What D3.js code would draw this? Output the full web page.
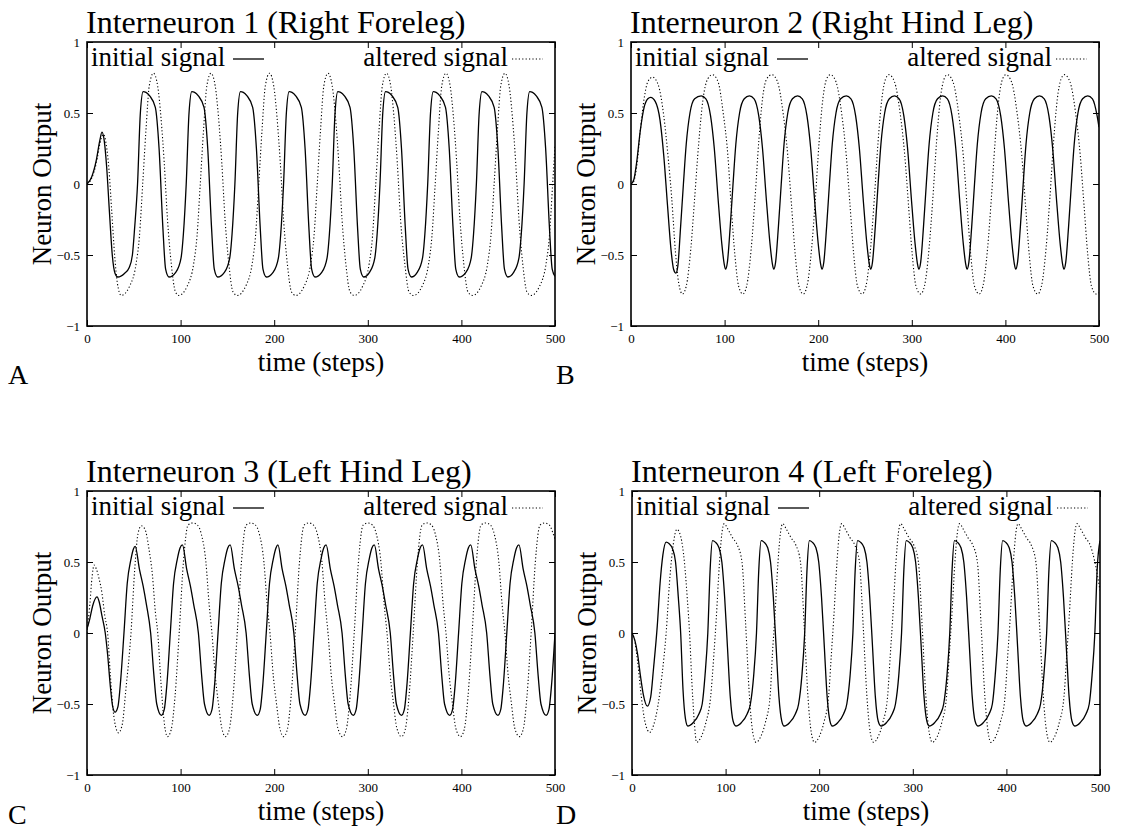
<!DOCTYPE html>
<html><head><meta charset="utf-8">
<script src="https://cdn.jsdelivr.net/npm/d3@7"></script>
<style>
body{margin:0;background:#fff}
svg{display:block}
text{font-family:"Liberation Serif","Times New Roman",serif;fill:#000}
</style></head>
<body><svg id="chart" width="1122" height="832"></svg>
<script>
const titles = ["Interneuron 1 (Right Foreleg)","Interneuron 2 (Right Hind Leg)","Interneuron 3 (Left Hind Leg)","Interneuron 4 (Left Foreleg)"];
const panelLetters = ["A","B","C","D"];
const seriesNames = ["initial signal","altered signal"];
const xLabel = "time (steps)";
const yLabel = "Neuron Output";
const xTicks = [0,100,200,300,400,500];
const yTicks = [-1,-0.5,0,0.5,1];
const yTickLabels = ["\u22121","\u22120.5","0","0.5","1"];

const aInitial = [[0,0],[5,0.05],[10,0.17],[13.5,0.3],[16,0.365],[18.5,0.3],[21,0.12],[24,-0.2],[27,-0.5],[30,-0.63],[33,-0.655],[40,-0.63],[45,-0.59],[48.5,-0.5],[51,-0.3],[54,0],[57,0.5],[60,0.65],
[63,0.645],[67,0.62],[73,0.54],[77,0.25],[81,-0.3],[84,-0.6],[87.5,-0.655],[95,-0.62],[100.5,-0.52],[103,-0.35],[106,0],[109,0.5],[112,0.65],
[115,0.645],[119,0.62],[125,0.54],[129,0.25],[133,-0.3],[136,-0.6],[139.5,-0.655],[147,-0.62],[152.5,-0.52],[155,-0.35],[158,0],[161,0.5],[164,0.65],
[167,0.645],[171,0.62],[177,0.54],[181,0.25],[185,-0.3],[188,-0.6],[191.5,-0.655],[199,-0.62],[204.5,-0.52],[207,-0.35],[210,0],[213,0.5],[216,0.65],
[219,0.645],[223,0.62],[229,0.54],[233,0.25],[237,-0.3],[240,-0.6],[243.5,-0.655],[251,-0.62],[256.5,-0.52],[259,-0.35],[262,0],[265,0.5],[268,0.65],
[271,0.645],[275,0.62],[281,0.54],[285,0.25],[289,-0.3],[292,-0.6],[295.5,-0.655],[302,-0.62],[307.5,-0.52],[310,-0.35],[313,0],[316,0.5],[319,0.65],
[322,0.645],[326,0.62],[332,0.54],[336,0.25],[340,-0.3],[343,-0.6],[346.5,-0.655],[353,-0.62],[358.5,-0.52],[361,-0.35],[364,0],[367,0.5],[370,0.65],
[373,0.645],[377,0.62],[383,0.54],[387,0.25],[391,-0.3],[394,-0.6],[397.5,-0.655],[405,-0.62],[410.5,-0.52],[413,-0.35],[416,0],[419,0.5],[422,0.65],
[425,0.645],[429,0.62],[435,0.54],[439,0.25],[443,-0.3],[446,-0.6],[449.5,-0.655],[456,-0.62],[461.5,-0.52],[464,-0.35],[467,0],[470,0.5],[473,0.65],
[476,0.645],[480,0.62],[486,0.54],[490,0.25],[494,-0.3],[497,-0.6],[500,-0.65]];

const aAltered = [[0,0],[5,0.04],[10,0.15],[14,0.29],[17.5,0.35],[20.5,0.28],[23.5,0.1],[26.5,-0.2],[29.5,-0.5],[32.5,-0.7],[36.5,-0.785],
[45.5,-0.72],[52.5,-0.56],[56,-0.37],[59.5,0],[63,0.38],[66.5,0.69],[71,0.78],[75.5,0.69],[79,0.47],[82.5,0.15],[86,-0.25],[90,-0.56],[94.5,-0.76],[98,-0.785],
[107,-0.72],[114,-0.56],[117.5,-0.37],[121,0],[124.5,0.38],[128,0.69],[132.5,0.78],[137,0.69],[140.5,0.47],[144,0.15],[147.5,-0.25],[151.5,-0.56],[156,-0.76],[160.5,-0.785],
[169.5,-0.72],[176.5,-0.56],[180,-0.37],[183.5,0],[187,0.38],[190.5,0.69],[195,0.78],[199.5,0.69],[203,0.47],[206.5,0.15],[210,-0.25],[214,-0.56],[218.5,-0.76],[223,-0.785],
[232,-0.72],[239,-0.56],[242.5,-0.37],[246,0],[249.5,0.38],[253,0.69],[257.5,0.78],[262,0.69],[265.5,0.47],[269,0.15],[272.5,-0.25],[276.5,-0.56],[281,-0.76],[285.5,-0.785],
[294.5,-0.72],[301.5,-0.56],[305,-0.37],[308.5,0],[312,0.38],[315.5,0.69],[320,0.78],[324.5,0.69],[328,0.47],[331.5,0.15],[335,-0.25],[339.5,-0.56],[344,-0.76],[349,-0.785],
[358,-0.72],[365,-0.56],[368.5,-0.37],[372,0],[375.5,0.38],[379,0.69],[383.5,0.78],[388,0.69],[391.5,0.47],[395,0.15],[398.5,-0.25],[402.5,-0.56],[407,-0.76],[412,-0.785],
[421,-0.72],[428,-0.56],[431.5,-0.37],[435,0],[438.5,0.38],[442,0.69],[446.5,0.78],[451,0.69],[454.5,0.47],[458,0.15],[461.5,-0.25],[465.5,-0.56],[470,-0.76],[474.5,-0.785],
[483.5,-0.72],[490.5,-0.56],[494,-0.37],[497.5,0],[500,0.27]];

const bInitial = [[0,0],[3,0.03],[6,0.15],[10,0.38],[14,0.54],[18,0.6],[21,0.61],[26,0.58],[31,0.45],[35,0.2],[39,-0.15],[43,-0.48],[45.5,-0.6],[48,-0.627],
[50,-0.58],[53,-0.3],[56,0],[59,0.28],[63,0.5],[68,0.6],[75,0.62],
[80,0.6],[85,0.48],[89,0.25],[93,-0.1],[97,-0.42],[99.5,-0.56],[101,-0.6],
[103,-0.55],[106,-0.3],[109,0],[112,0.28],[116,0.5],[121,0.6],[126.5,0.62],
[131.5,0.6],[136.5,0.48],[140.5,0.25],[144.5,-0.1],[148.5,-0.42],[151,-0.56],[152.5,-0.6],
[154.5,-0.55],[157.5,-0.3],[160.5,0],[163.5,0.28],[167.5,0.5],[172.5,0.6],[178,0.62],
[183,0.6],[188,0.48],[192,0.25],[196,-0.1],[200,-0.42],[202.5,-0.56],[204,-0.6],
[206,-0.55],[209,-0.3],[212,0],[215,0.28],[219,0.5],[224,0.6],[230,0.62],
[235,0.6],[240,0.48],[244,0.25],[248,-0.1],[252,-0.42],[254.5,-0.56],[256,-0.6],
[258,-0.55],[261,-0.3],[264,0],[267,0.28],[271,0.5],[276,0.6],[281.5,0.62],
[286.5,0.6],[291.5,0.48],[295.5,0.25],[299.5,-0.1],[303.5,-0.42],[306,-0.56],[307.5,-0.6],
[309.5,-0.55],[312.5,-0.3],[315.5,0],[318.5,0.28],[322.5,0.5],[327.5,0.6],[333,0.62],
[338,0.6],[343,0.48],[347,0.25],[351,-0.1],[355,-0.42],[357.5,-0.56],[359,-0.6],
[361,-0.55],[364,-0.3],[367,0],[370,0.28],[374,0.5],[379,0.6],[385,0.62],
[390,0.6],[395,0.48],[399,0.25],[403,-0.1],[407,-0.42],[409.5,-0.56],[411,-0.6],
[413,-0.55],[416,-0.3],[419,0],[422,0.28],[426,0.5],[431,0.6],[436.5,0.62],
[441.5,0.6],[446.5,0.48],[450.5,0.25],[454.5,-0.1],[458.5,-0.42],[461,-0.56],[462.5,-0.6],
[464.5,-0.55],[467.5,-0.3],[470.5,0],[473.5,0.28],[477.5,0.5],[482.5,0.6],[488,0.62],
[493,0.6],[498,0.48],[500,0.4]];

const bAltered = [[0,0],[3,0.02],[6,0.12],[10,0.38],[14,0.6],[18,0.72],[23,0.753],
[29,0.7],[35,0.48],[39.5,0.2],[43.5,-0.1],[47.5,-0.48],[51,-0.7],[55,-0.775],
[59,-0.72],[64,-0.45],[68,-0.1],[72.5,0.3],[77,0.6],[82,0.74],[87,0.77],
[93,0.72],[98.5,0.5],[103.5,0.2],[107,-0.15],[111,-0.5],[115,-0.72],[119.5,-0.775],
[123.5,-0.72],[128.5,-0.45],[132.5,-0.1],[136.5,0.3],[140.5,0.6],[145,0.74],[150.5,0.77],
[156.5,0.72],[162.5,0.5],[167.5,0.2],[171.5,-0.15],[175.5,-0.5],[179.5,-0.72],[184,-0.775],
[188,-0.72],[193,-0.45],[197,-0.1],[201,0.3],[205,0.6],[209,0.74],[213,0.77],
[219,0.72],[225,0.5],[230,0.2],[234,-0.15],[238,-0.5],[242,-0.72],[247,-0.775],
[251,-0.72],[256,-0.45],[260,-0.1],[264,0.3],[268,0.6],[272,0.74],[275.5,0.77],
[281.5,0.72],[287.5,0.5],[292.5,0.2],[296.5,-0.15],[300.5,-0.5],[304.5,-0.72],[309.5,-0.775],
[313.5,-0.72],[318.5,-0.45],[322.5,-0.1],[326.5,0.3],[330.5,0.6],[334.5,0.74],[338,0.77],
[344,0.72],[350,0.5],[355,0.2],[359,-0.15],[363,-0.5],[367,-0.72],[372,-0.775],
[376,-0.72],[381,-0.45],[385,-0.1],[389,0.3],[393,0.6],[397,0.74],[400.5,0.77],
[406.5,0.72],[412.5,0.5],[417.5,0.2],[421.5,-0.15],[425.5,-0.5],[429.5,-0.72],[434.5,-0.775],
[438.5,-0.72],[443.5,-0.45],[447.5,-0.1],[451.5,0.3],[455.5,0.6],[459.5,0.74],[463,0.77],
[469,0.72],[475,0.5],[480,0.2],[484,-0.15],[488,-0.5],[492,-0.72],[497,-0.775],[500,-0.765]];

const cInitial = [[0,0.03],[3,0.1],[6,0.19],[10.7,0.254],[13,0.22],[16,0.12],[19.5,0],[22,-0.15],[25,-0.38],[27.5,-0.52],[30,-0.557],
[33,-0.52],[36,-0.33],[39.5,0],[43,0.35],[47,0.52],[49.5,0.59],[51.5,0.61],
[56,0.45],[60,0.33],[63.5,0.2],[68,0],[71.5,-0.3],[74.5,-0.5],[79.5,-0.58],
[82.5,-0.54],[85.5,-0.35],[89,0],[92.5,0.35],[96.5,0.52],[99.5,0.6],[102,0.62],
[106.5,0.45],[110.5,0.33],[114,0.2],[119,0],[122.5,-0.3],[125.5,-0.5],[130.5,-0.58],
[133.5,-0.54],[136.5,-0.35],[140,0],[143.5,0.35],[147.5,0.52],[150.5,0.6],[153,0.62],
[157.5,0.45],[161.5,0.33],[165,0.2],[170,0],[173.5,-0.3],[176.5,-0.5],[182,-0.58],
[185,-0.54],[188,-0.35],[191.5,0],[195,0.35],[199,0.52],[202,0.6],[204,0.62],
[208.5,0.45],[212.5,0.33],[216,0.2],[221,0],[224.5,-0.3],[227.5,-0.5],[233,-0.58],
[236,-0.54],[239,-0.35],[242.5,0],[246,0.35],[250,0.52],[253,0.6],[255.5,0.62],
[260,0.45],[264,0.33],[267.5,0.2],[272.5,0],[276,-0.3],[279,-0.5],[284.5,-0.58],
[287.5,-0.54],[290.5,-0.35],[294,0],[297.5,0.35],[301.5,0.52],[304.5,0.6],[307,0.62],
[311.5,0.45],[315.5,0.33],[319,0.2],[324,0],[327.5,-0.3],[330.5,-0.5],[336,-0.58],
[339,-0.54],[342,-0.35],[345.5,0],[349,0.35],[353,0.52],[356,0.6],[358.5,0.62],
[363,0.45],[367,0.33],[370.5,0.2],[375.5,0],[379,-0.3],[382,-0.5],[387.5,-0.58],
[390.5,-0.54],[393.5,-0.35],[397,0],[400.5,0.35],[404.5,0.52],[407.5,0.6],[410,0.62],
[414.5,0.45],[418.5,0.33],[422,0.2],[427,0],[430.5,-0.3],[433.5,-0.5],[439,-0.58],
[442,-0.54],[445,-0.35],[448.5,0],[452,0.35],[456,0.52],[459,0.6],[461.5,0.62],
[466,0.45],[470,0.33],[473.5,0.2],[478.5,0],[482,-0.3],[485,-0.5],[490.5,-0.58],
[493.5,-0.54],[496.5,-0.35],[500,0]];

const cAltered = [[0,0],[3,0.2],[5.5,0.4],[7.6,0.478],[10,0.45],[13,0.38],[16,0.28],[19,0.12],[22,0],[25,-0.3],[28,-0.55],[31,-0.67],[33.6,-0.703],
[37.5,-0.65],[41.5,-0.4],[47,0],[51,0.45],[54.5,0.7],[58,0.755],[62,0.73],[66,0.6],[70,0.4],[73,0.15],[75.6,0],[79,-0.35],[82,-0.6],[86,-0.73],
[90,-0.68],[94,-0.45],[98.5,0],[103,0.5],[108,0.76],[113,0.775],[118,0.76],[122,0.7],[127,0.5],[130.5,0.2],[133.5,0],[137,-0.3],[140.5,-0.5],[144,-0.67],[148,-0.73],
[152,-0.68],[156,-0.45],[160.5,0],[165,0.5],[170,0.76],[175,0.775],[180,0.76],[184,0.7],[189,0.5],[192.5,0.2],[195.5,0],[199,-0.3],[202.5,-0.5],[206,-0.67],[210,-0.73],
[214,-0.68],[218,-0.45],[222.5,0],[227,0.5],[232,0.76],[237,0.775],[242,0.76],[246,0.7],[251,0.5],[254.5,0.2],[257.5,0],[261,-0.3],[264.5,-0.5],[268,-0.67],[273,-0.73],
[277,-0.68],[281,-0.45],[285.5,0],[290,0.5],[295,0.76],[300,0.775],[305,0.76],[309,0.7],[314,0.5],[317.5,0.2],[320.5,0],[324,-0.3],[327.5,-0.5],[331,-0.67],[336,-0.73],
[340,-0.68],[344,-0.45],[348.5,0],[353,0.5],[358,0.76],[363,0.775],[368,0.76],[372,0.7],[377,0.5],[380.5,0.2],[383.5,0],[387,-0.3],[390.5,-0.5],[394,-0.67],[399,-0.73],
[403,-0.68],[407,-0.45],[411.5,0],[416,0.5],[421,0.76],[426,0.775],[431,0.76],[435,0.7],[440,0.5],[443.5,0.2],[446.5,0],[450,-0.3],[453.5,-0.5],[457,-0.67],[462,-0.73],
[466,-0.68],[470,-0.45],[474.5,0],[479,0.5],[484,0.76],[489,0.775],[494,0.76],[498,0.7],[500,0.66]];

const dInitial = [[0,0],[3,-0.05],[6,-0.15],[9,-0.3],[12,-0.43],[16.5,-0.515],[20,-0.45],[23,-0.25],[27,0.05],[30,0.35],[33,0.55],[36.5,0.64],
[39.5,0.63],[43.5,0.59],[46.5,0.5],[49.5,0.25],[52,0],[54.5,-0.4],[57,-0.6],[59.5,-0.655],
[65.5,-0.63],[71.5,-0.57],[75,-0.5],[78,-0.3],[81,0],[83.5,0.45],[86,0.65],
[89,0.64],[93,0.6],[96,0.5],[99,0.25],[102,-0.1],[105,-0.45],[108,-0.62],[111,-0.655],
[117,-0.63],[123,-0.57],[126.5,-0.5],[130,-0.3],[133,0],[135.5,0.45],[138,0.65],
[141,0.64],[145,0.6],[148,0.5],[151,0.25],[154,-0.1],[157,-0.45],[160,-0.62],[162.5,-0.655],
[168.5,-0.63],[174.5,-0.57],[178,-0.5],[181.5,-0.3],[184.5,0],[187,0.45],[189.5,0.65],
[192.5,0.64],[196.5,0.6],[199.5,0.5],[202.5,0.25],[205.5,-0.1],[208.5,-0.45],[211.5,-0.62],[214,-0.655],
[220,-0.63],[226,-0.57],[229.5,-0.5],[233,-0.3],[236,0],[238.5,0.45],[241,0.65],
[244,0.64],[248,0.6],[251,0.5],[254,0.25],[257,-0.1],[260,-0.45],[263,-0.62],[266,-0.655],
[272,-0.63],[278,-0.57],[281.5,-0.5],[285,-0.3],[288,0],[290.5,0.45],[293,0.65],
[296,0.64],[300,0.6],[303,0.5],[306,0.25],[309,-0.1],[312,-0.45],[315,-0.62],[317.5,-0.655],
[323.5,-0.63],[329.5,-0.57],[333,-0.5],[336.5,-0.3],[339.5,0],[342,0.45],[344.5,0.65],
[347.5,0.64],[351.5,0.6],[354.5,0.5],[357.5,0.25],[360.5,-0.1],[363.5,-0.45],[366.5,-0.62],[369.5,-0.655],
[375.5,-0.63],[381.5,-0.57],[385,-0.5],[388,-0.3],[391,0],[393.5,0.45],[396,0.65],
[399,0.64],[403,0.6],[406,0.5],[409,0.25],[412,-0.1],[415,-0.45],[418,-0.62],[421,-0.655],
[427,-0.63],[433,-0.57],[436.5,-0.5],[440,-0.3],[443,0],[445.5,0.45],[448,0.65],
[451,0.64],[455,0.6],[458,0.5],[461,0.25],[464,-0.1],[467,-0.45],[470,-0.62],[473,-0.655],
[479,-0.63],[485,-0.57],[488.5,-0.5],[491.5,-0.3],[494.5,0],[497,0.45],[500,0.65]];

const dAltered = [[0,0],[3,-0.06],[6,-0.2],[10,-0.45],[14,-0.63],[19,-0.7],[23,-0.65],[28,-0.5],[32,-0.3],[36.5,0],[40,0.35],[44,0.62],[48,0.73],
[52,0.68],[56,0.5],[59,0.25],[61.5,0],[64,-0.35],[66.5,-0.62],[69,-0.77],
[74,-0.73],[79,-0.63],[84,-0.45],[87.5,-0.15],[90,0.1],[93.5,0.5],[96,0.7],[98.5,0.77],
[102.5,0.73],[107.5,0.67],[112.5,0.62],[117.5,0.5],[121.5,0.05],[125.5,-0.45],[129,-0.7],[132.5,-0.77],
[137.5,-0.73],[142.5,-0.63],[147.5,-0.45],[150,-0.15],[152.5,0.1],[156,0.5],[158.5,0.7],[161,0.77],
[165,0.73],[170,0.67],[175,0.62],[180,0.5],[184,0.05],[188,-0.45],[191.5,-0.7],[195,-0.77],
[200,-0.73],[205,-0.63],[210,-0.45],[213,-0.15],[215.5,0.1],[219,0.5],[221.5,0.7],[224,0.77],
[228,0.73],[233,0.67],[238,0.62],[243,0.5],[247,0.05],[251,-0.45],[254.5,-0.7],[258,-0.77],
[263,-0.73],[268,-0.63],[273,-0.45],[276,-0.15],[278.5,0.1],[282,0.5],[284.5,0.7],[287,0.77],
[291,0.73],[296,0.67],[301,0.62],[306,0.5],[310,0.05],[314,-0.45],[317.5,-0.7],[321,-0.77],
[326,-0.73],[331,-0.63],[336,-0.45],[339,-0.15],[341.5,0.1],[345,0.5],[347.5,0.7],[350,0.77],
[354,0.73],[359,0.67],[364,0.62],[369,0.5],[373,0.05],[377,-0.45],[380.5,-0.7],[383.5,-0.77],
[388.5,-0.73],[393.5,-0.63],[398.5,-0.45],[401.5,-0.15],[404,0.1],[407.5,0.5],[410,0.7],[412.5,0.77],
[416.5,0.73],[421.5,0.67],[426.5,0.62],[431.5,0.5],[435.5,0.05],[439.5,-0.45],[443,-0.7],[446.5,-0.77],
[451.5,-0.73],[456.5,-0.63],[461.5,-0.45],[464.5,-0.15],[467,0.1],[470.5,0.5],[473,0.7],[475.5,0.77],
[479.5,0.73],[484.5,0.67],[489.5,0.62],[494.5,0.5],[500,0.3]];

const panelSeries = [[aInitial,aAltered],[bInitial,bAltered],[cInitial,cAltered],[dInitial,dAltered]];

// layout
const W = 468, H = 284;
const lefts = [87, 631, 87, 632];
const tops = [42, 42, 491, 491];

const svg = d3.select("#chart");
const x = d3.scaleLinear().domain([0,500]).range([0,W]);
const y = d3.scaleLinear().domain([-1,1]).range([H,0]);
const line = d3.line().x(d => x(d[0])).y(d => y(d[1])).curve(d3.curveMonotoneX);

panelSeries.forEach((series, i) => {
  const g = svg.append("g").attr("transform", `translate(${lefts[i]},${tops[i]})`);
  const cid = "clip" + i;
  g.append("clipPath").attr("id", cid).append("rect").attr("width", W).attr("height", H);

  const ax = [
    d3.axisBottom(x).tickValues(xTicks).tickSizeInner(-6).tickSizeOuter(0).tickPadding(8).tickFormat(d3.format("d")),
    d3.axisTop(x).tickValues(xTicks).tickSizeInner(-6).tickSizeOuter(0).tickFormat(""),
    d3.axisLeft(y).tickValues(yTicks).tickSizeInner(-6).tickSizeOuter(0).tickPadding(7).tickFormat((d,k) => yTickLabels[k]),
    d3.axisRight(y).tickValues(yTicks).tickSizeInner(-6).tickSizeOuter(0).tickFormat("")
  ];
  const pos = [[0,H],[0,0],[0,0],[W,0]];
  ax.forEach((a, k) => {
    const ag = g.append("g").attr("transform", `translate(${pos[k][0]},${pos[k][1]})`).call(a);
    ag.select(".domain").remove();
    ag.selectAll("line").attr("stroke", "#000").attr("stroke-width", 1);
    ag.selectAll("text").attr("font-family", "'Liberation Serif',serif").attr("font-size", 13).attr("fill", "#222");
  });

  g.append("path").datum(series[0]).attr("d", line).attr("fill", "none")
    .attr("stroke", "#000").attr("stroke-width", 1.3).attr("clip-path", `url(#${cid})`);
  g.append("path").datum(series[1]).attr("d", line).attr("fill", "none")
    .attr("stroke", "#000").attr("stroke-width", 1.1).attr("stroke-dasharray", "1.2,2.2").attr("clip-path", `url(#${cid})`);

  g.append("rect").attr("width", W).attr("height", H).attr("fill", "none")
    .attr("stroke", "#000").attr("stroke-width", 1.6);

  g.append("text").attr("x", 4).attr("y", 24).attr("font-size", 27).text(seriesNames[0]);
  g.append("line").attr("x1", 146).attr("x2", 177).attr("y1", 17).attr("y2", 17)
    .attr("stroke", "#000").attr("stroke-width", 1.3);
  g.append("text").attr("x", 421).attr("y", 24).attr("font-size", 27).attr("text-anchor", "end").text(seriesNames[1]);
  g.append("line").attr("x1", 425).attr("x2", 456).attr("y1", 17).attr("y2", 17)
    .attr("stroke", "#000").attr("stroke-width", 1.1).attr("stroke-dasharray", "1.2,2.2");

  g.append("text").attr("x", -1).attr("y", -9).attr("font-size", 32).text(titles[i]);
  g.append("text").attr("x", W/2).attr("y", H + 45).attr("font-size", 27).attr("text-anchor", "middle").text(xLabel);
  g.append("text").attr("transform", `translate(-36,${H/2}) rotate(-90)`).attr("font-size", 27)
    .attr("text-anchor", "middle").text(yLabel);
});

const letterPos = [[8,384],[556,384],[8,824],[556,824]];
panelLetters.forEach((L, i) => {
  svg.append("text").attr("x", letterPos[i][0]).attr("y", letterPos[i][1]).attr("font-size", 28).text(L);
});
</script>
</body></html>
